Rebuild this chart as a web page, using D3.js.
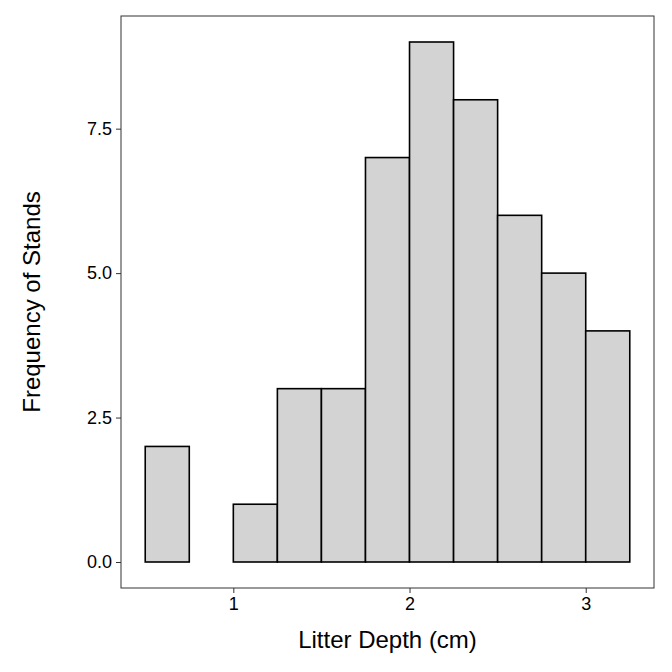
<!DOCTYPE html>
<html><head><meta charset="utf-8">
<script src="https://cdn.jsdelivr.net/npm/d3@7"></script>
<style>body{margin:0;background:#fff}</style>
</head><body><div id="chart"></div>
<script>
// Data
const binStarts = [0.5, 0.75, 1, 1.25, 1.5, 1.75, 2, 2.25, 2.5, 2.75, 3];
const binWidth = 0.25;
const counts = [2, 0, 1, 3, 3, 7, 9, 8, 6, 5, 4];
const xTicks = [1, 2, 3];
const yTicks = [0, 2.5, 5, 7.5];

const width = 672, height = 672;
const margin = { top: 16, right: 18, bottom: 84, left: 121 };
const w = width - margin.left - margin.right;
const h = height - margin.top - margin.bottom;

const svg = d3.select("#chart").append("svg")
    .attr("width", width).attr("height", height)
    .style("font-family", "Arial, 'Liberation Sans', sans-serif");
const g = svg.append("g").attr("transform", `translate(${margin.left},${margin.top})`);

const x = d3.scaleLinear().domain([0.3625, 3.3875]).range([0, w]);
const y = d3.scaleLinear().domain([-0.45, 9.45]).range([h, 0]);

const bins = binStarts.map((s, i) => ({ x0: s, n: counts[i] })).filter(d => d.n > 0);

// Bars
g.selectAll("rect.bar").data(bins).enter().append("rect")
    .attr("x", d => x(d.x0))
    .attr("y", d => y(d.n))
    .attr("width", x(binWidth) - x(0))
    .attr("height", d => y(0) - y(d.n))
    .attr("fill", "#d3d3d3").attr("stroke", "#000").attr("stroke-width", 1.6);

// Panel border
g.append("rect").attr("width", w).attr("height", h)
    .attr("fill", "none").attr("stroke", "#333").attr("stroke-width", 1);

// Axes
const xAxis = g.append("g").attr("transform", `translate(0,${h})`)
    .call(d3.axisBottom(x).tickValues(xTicks).tickSize(5).tickPadding(4).tickFormat(d3.format("d")));
const yAxis = g.append("g")
    .call(d3.axisLeft(y).tickValues(yTicks).tickSize(5).tickPadding(4).tickFormat(d3.format(".1f")));
[xAxis, yAxis].forEach(a => {
    a.select(".domain").remove();
    a.selectAll("line").attr("stroke", "#333");
    a.selectAll("text").attr("fill", "#000").style("font-size", "18px");
});

// Labels
svg.append("text").attr("x", margin.left + w / 2).attr("y", 648)
    .attr("text-anchor", "middle").style("font-size", "24px").text("Litter Depth (cm)");
svg.append("text").attr("transform", "rotate(-90)")
    .attr("x", -(margin.top + h / 2)).attr("y", 40)
    .attr("text-anchor", "middle").style("font-size", "24px").text("Frequency of Stands");
</script></body></html>
